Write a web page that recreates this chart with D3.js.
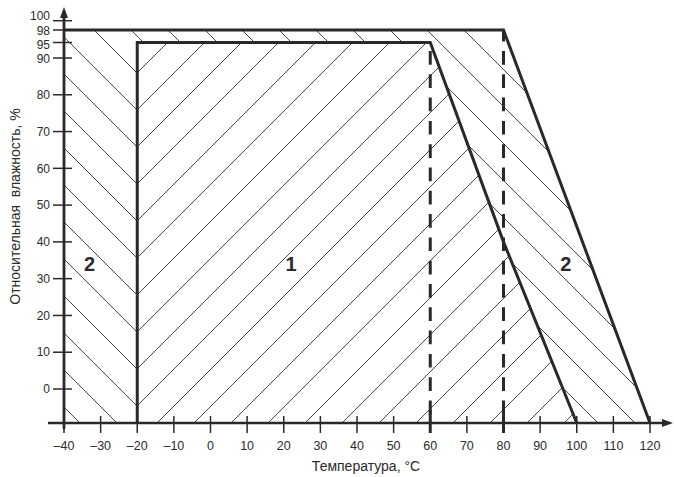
<!DOCTYPE html>
<html>
<head>
<meta charset="utf-8">
<script src="https://cdn.jsdelivr.net/npm/d3@7"></script>
<style>
  body { margin: 0; background: #fff; }
  text { font-family: "Liberation Sans", Arial, sans-serif; fill: #2b2b2b; }
</style>
</head>
<body>
<svg id="chart" width="674" height="477"></svg>
<script>
// axis ticks
var xTicks = [-40, -30, -20, -10, 0, 10, 20, 30, 40, 50, 60, 70, 80, 90, 100, 110, 120];
var yTicks = [0, 10, 20, 30, 40, 50, 60, 70, 80, 90, 95, 98, 100];
var yBottom = -9.3; // humidity value where the T axis sits

// zone 1 : [T, RH] outline
var zone1 = [[-20, yBottom], [-20, 95], [60, 95], [80, 40], [100, yBottom]];
// zone 2 : [T, RH] outline
var zone2 = [[-40, yBottom], [-40, 98], [80, 98], [120, yBottom]];
// dashed verticals : [T, top RH]
var dashed = [[60, 95], [80, 98]];
// zone numbers : [text, T, RH]
var zoneNames = [["1", 22, 34], ["2", -33, 34], ["2", 97, 34]];

var svg = d3.select("#chart");
var ink = "#2d2828";

var x = d3.scaleLinear().domain([-40, 120]).range([64, 650]);
var y = d3.scaleLinear()
  .domain([yBottom, 0, 90, 95, 98, 100])
  .range([423, 389, 58, 42.5, 30, 20.7]);

var line = d3.line()
  .x(function(d) { return x(d[0]); })
  .y(function(d) { return y(d[1]); });

var defs = svg.append("defs");
defs.append("clipPath").attr("id", "clip1")
  .append("path").attr("d", line(zone1) + "Z");
defs.append("clipPath").attr("id", "clip2")
  .append("path")
    .attr("d", line(zone2) + "Z" + line(zone1) + "Z")
    .attr("clip-rule", "evenodd");

// hatching
var P = 37;
svg.append("g").attr("clip-path", "url(#clip1)")
  .selectAll("line").data(d3.range(-2, 34))
  .enter().append("line")
    .attr("x1", 0).attr("y1", function(k) { return 25 + k * P; })
    .attr("x2", 674).attr("y2", function(k) { return 25 + k * P - 674; })
    .attr("stroke", "#333").attr("stroke-width", 0.9);

svg.append("g").attr("clip-path", "url(#clip2)")
  .selectAll("line").data(d3.range(-14, 20))
  .enter().append("line")
    .attr("x1", 0).attr("y1", function(k) { return -(27 + k * P); })
    .attr("x2", 674).attr("y2", function(k) { return 674 - (27 + k * P); })
    .attr("stroke", "#333").attr("stroke-width", 0.9);

// dashed verticals
svg.selectAll(".dash").data(dashed)
  .enter().append("line")
    .attr("class", "dash")
    .attr("x1", function(d) { return x(d[0]); })
    .attr("x2", function(d) { return x(d[0]); })
    .attr("y1", function(d) { return y(d[1]); })
    .attr("y2", y(yBottom))
    .attr("stroke", ink).attr("stroke-width", 3)
    .attr("stroke-dasharray", "13.7,9.6")
    .attr("stroke-dashoffset", function(d) {
      var p = 23.3;
      return (((y(d[1]) - 51) % p) + p) % p;
    });

// zone outlines
svg.append("path")
  .attr("d", line(zone2.slice(1)))
  .attr("fill", "none").attr("stroke", ink).attr("stroke-width", 3);
svg.append("path")
  .attr("d", line(zone1))
  .attr("fill", "none").attr("stroke", ink).attr("stroke-width", 3)
  .attr("stroke-linejoin", "miter");

// axes
var y0 = y(yBottom);
svg.append("line")
  .attr("x1", 48).attr("x2", 665).attr("y1", y0).attr("y2", y0)
  .attr("stroke", ink).attr("stroke-width", 2.6);
svg.append("path")
  .attr("d", "M673," + y0 + "L662," + (y0 - 4) + "L662," + (y0 + 4) + "Z")
  .attr("fill", ink);
svg.append("line")
  .attr("x1", x(-40)).attr("x2", x(-40)).attr("y1", y0 + 6).attr("y2", 16)
  .attr("stroke", ink).attr("stroke-width", 2.8);
svg.append("path")
  .attr("d", "M" + x(-40) + ",7L" + (x(-40) - 4) + ",18L" + (x(-40) + 4) + ",18Z")
  .attr("fill", ink);

// x ticks
svg.selectAll(".xt").data(xTicks)
  .enter().append("line")
    .attr("class", "xt")
    .attr("x1", function(d) { return x(d); })
    .attr("x2", function(d) { return x(d); })
    .attr("y1", function(d) { return (d == 60 || d == 80) ? y0 - 13 : y0 - 7; })
    .attr("y2", y0 + 10)
    .attr("stroke", ink)
    .attr("stroke-width", function(d) { return (d == 60 || d == 80) ? 3 : 1.5; });

svg.selectAll(".xl").data(xTicks)
  .enter().append("text")
    .attr("class", "xl")
    .attr("x", function(d) { return x(d); })
    .attr("y", 449.5)
    .attr("text-anchor", "middle")
    .style("font-size", "12.5px")
    .text(function(d) { return d < 0 ? "\u2013" + Math.abs(d) : d; });

// y ticks
svg.selectAll(".yt").data(yTicks)
  .enter().append("line")
    .attr("class", "yt")
    .attr("x1", 53).attr("x2", 72)
    .attr("y1", function(d) { return y(d); })
    .attr("y2", function(d) { return y(d); })
    .attr("stroke", ink).attr("stroke-width", 1.5);

// labels near the squeezed top are nudged apart
var nudge = { 100: -5, 98: 1, 95: 2, 90: 1 };
svg.selectAll(".yl").data(yTicks)
  .enter().append("text")
    .attr("class", "yl")
    .attr("x", 50)
    .attr("y", function(d) { return y(d) + (nudge[d] || 0); })
    .attr("dy", "0.35em")
    .attr("text-anchor", "end")
    .style("font-size", "12px")
    .text(function(d) { return d; });

// zone numbers
svg.selectAll(".zn").data(zoneNames)
  .enter().append("text")
    .attr("class", "zn")
    .attr("x", function(d) { return x(d[1]); })
    .attr("y", function(d) { return y(d[2]); })
    .attr("dy", "0.36em")
    .attr("text-anchor", "middle")
    .attr("font-weight", "bold")
    .style("font-size", "20px")
    .text(function(d) { return d[0]; });

// titles
svg.append("text")
  .attr("x", 366).attr("y", 471)
  .attr("text-anchor", "middle")
  .style("font-size", "14px")
  .text("Температура, °С");

svg.append("text")
  .attr("transform", "translate(19.5,206.5) rotate(-90)")
  .attr("text-anchor", "middle")
  .style("font-size", "14px")
  .style("white-space", "pre")
  .text("Относительная  влажность, %");
</script>
</body>
</html>
